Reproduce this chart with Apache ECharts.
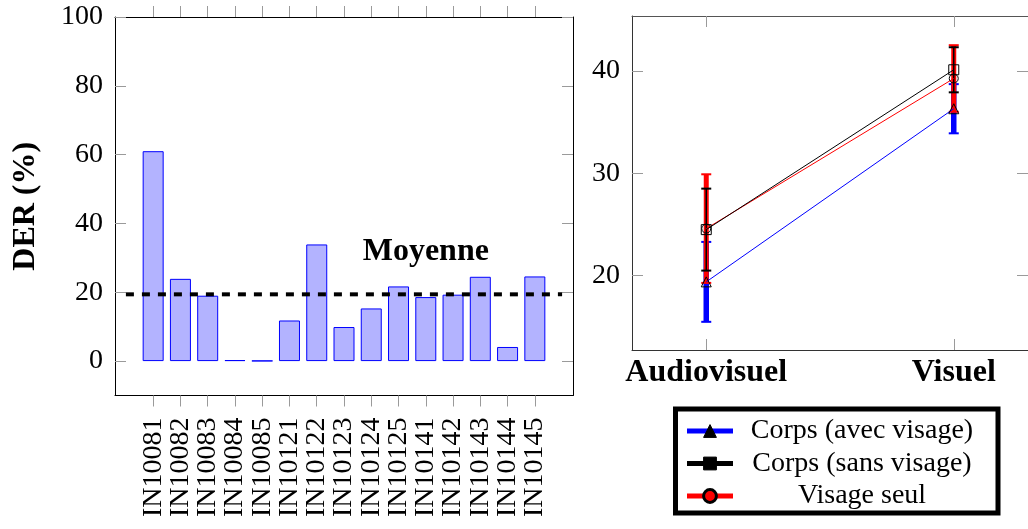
<!DOCTYPE html>
<html>
<head>
<meta charset="utf-8">
<script src="https://cdn.jsdelivr.net/npm/echarts@6/dist/echarts.min.js"></script>
<style>
html,body{margin:0;padding:0;background:#fff;}
#c{width:1028px;height:529px;}
</style>
</head>
<body>
<div id="c"></div>
<script>
// ---- Left chart data ----
const speakers = ['IN10081','IN10082','IN10083','IN10084','IN10085','IN10121','IN10122','IN10123','IN10124','IN10125','IN10141','IN10142','IN10143','IN10144','IN10145'];
const derValues = [61.0, 23.9, 19.0, 0.3, 0.1, 11.8, 33.9, 9.9, 15.3, 21.7, 18.6, 19.3, 24.5, 4.1, 24.6];
const derMean = 19.4;
const derTicks = [0, 20, 40, 60, 80, 100];
const meanLabel = 'Moyenne';

// ---- Right chart data ----
const conditions = ['Audiovisuel', 'Visuel'];
const seriesNames = ['Corps (avec visage)', 'Corps (sans visage)', 'Visage seul'];
const corpsAvec = [19.4, 36.3];
const corpsAvecErr = [3.9, 2.4];
const corpsSans = [24.5, 40.1];
const corpsSansErr = [4.0, 2.2];
const visageSeul = [24.6, 39.25];
const visageSeulErr = [5.3, 3.25];
const rightTicks = [20, 30, 40];

const FONT = 'Liberation Serif';
const FS = 28;
const FSB = 32;
const TICK = '#9a9a9a';

const chart = echarts.init(document.getElementById('c'), null, {renderer: 'canvas'});

const idx = speakers.map((_, i) => i);
const evenIdx = idx.filter(i => i % 2 === 0);
const oddIdx = idx.filter(i => i % 2 === 1);
const condIdx = conditions.map((_, i) => i);

function errData(vals, errs) {
  return vals.map((v, i) => [i, v - errs[i], v + errs[i]]);
}
function errSeries(vals, errs, color, bw, z) {
  return {
    type: 'custom', xAxisIndex: 2, yAxisIndex: 2, z: z, silent: true,
    encode: {x: 0, y: [1, 2]},
    data: errData(vals, errs),
    renderItem: function (params, api) {
      const x = api.value(0), lo = api.value(1), hi = api.value(2);
      const pLo = api.coord([x, lo]);
      const pHi = api.coord([x, hi]);
      const h = 5;
      return {
        type: 'group',
        children: [
          {type: 'line', shape: {x1: pLo[0], y1: pLo[1], x2: pHi[0], y2: pHi[1]}, style: {stroke: color, lineWidth: bw}},
          {type: 'line', shape: {x1: pHi[0] - h, y1: pHi[1], x2: pHi[0] + h, y2: pHi[1]}, style: {stroke: color, lineWidth: 2}},
          {type: 'line', shape: {x1: pLo[0] - h, y1: pLo[1], x2: pLo[0] + h, y2: pLo[1]}, style: {stroke: color, lineWidth: 2}}
        ]
      };
    }
  };
}
function lineSeries(name, vals, color, symbol, size, z) {
  return {
    name: name, type: 'line', xAxisIndex: 2, yAxisIndex: 2, z: z,
    data: vals.map((v, i) => [i, v]),
    symbol: symbol, symbolSize: size,
    lineStyle: {color: color, width: 1},
    itemStyle: {color: 'rgba(0,0,0,0)', borderColor: '#000', borderWidth: 1},
    emphasis: {disabled: true},
    animation: false
  };
}

const catLabel = {
  show: true, rotate: 90, margin: 22,
  showMinLabel: true, showMaxLabel: true,
  formatter: v => speakers[Math.round(v)] || '',
  fontFamily: FONT, fontSize: FS, color: '#000'
};

const option = {
  animation: false,
  backgroundColor: '#fff',
  grid: [
    {left: 115, top: 17, width: 458, height: 378.5, show: false},
    {left: 632, top: 16, width: 405, height: 334, show: false},
    {left: 115, top: 17, width: 458, height: 378.5, show: false}
  ],
  xAxis: [
    {
      type: 'value', gridIndex: 0, min: -1.4, max: 15.4, position: 'bottom',
      axisLine: {show: true, onZero: false, lineStyle: {color: '#000', width: 1}},
      axisTick: {show: true, inside: false, length: 11, customValues: idx, lineStyle: {color: TICK}},
      axisLabel: Object.assign({customValues: evenIdx}, catLabel),
      splitLine: {show: false}
    },
    {
      type: 'value', gridIndex: 0, min: -1.4, max: 15.4, position: 'top',
      axisLine: {show: true, onZero: false, lineStyle: {color: '#000', width: 1}},
      axisTick: {show: true, inside: false, length: 11, customValues: idx, lineStyle: {color: TICK}},
      axisLabel: {show: false},
      splitLine: {show: false}
    },
    {
      type: 'value', gridIndex: 1, min: -0.3, max: 1.3, position: 'bottom',
      axisLine: {show: true, onZero: false, lineStyle: {color: '#333', width: 1}},
      axisTick: {show: true, inside: true, length: 11, customValues: condIdx, lineStyle: {color: TICK}},
      axisLabel: {show: true, customValues: condIdx, margin: 7,
        showMinLabel: true, showMaxLabel: true,
        formatter: v => conditions[Math.round(v)] || '',
        fontFamily: FONT, fontSize: FSB, fontWeight: 'bold', color: '#000'},
      splitLine: {show: false}
    },
    {
      type: 'value', gridIndex: 1, min: -0.3, max: 1.3, position: 'top',
      axisLine: {show: true, onZero: false, lineStyle: {color: '#555', width: 1}},
      axisTick: {show: true, inside: true, length: 11, customValues: condIdx, lineStyle: {color: TICK}},
      axisLabel: {show: false},
      splitLine: {show: false}
    },
    {
      type: 'value', gridIndex: 2, min: -1.4, max: 15.4, position: 'bottom',
      axisLine: {show: false, onZero: false},
      axisTick: {show: false},
      axisLabel: Object.assign({customValues: oddIdx}, catLabel),
      splitLine: {show: false}
    }
  ],
  yAxis: [
    {
      type: 'value', gridIndex: 0, min: -10, max: 100, position: 'left',
      name: 'DER (%)', nameLocation: 'middle', nameGap: 73, nameRotate: 90,
      nameTextStyle: {fontFamily: FONT, fontSize: FSB, fontWeight: 'bold', color: '#000'},
      axisLine: {show: true, onZero: false, lineStyle: {color: '#000', width: 1}},
      axisTick: {show: true, inside: true, length: 11, customValues: derTicks, lineStyle: {color: TICK}},
      axisLabel: {show: true, customValues: derTicks, margin: 12, showMinLabel: true, showMaxLabel: true,
        fontFamily: FONT, fontSize: FS, color: '#000'},
      splitLine: {show: false}
    },
    {
      type: 'value', gridIndex: 0, min: -10, max: 100, position: 'right',
      axisLine: {show: true, onZero: false, lineStyle: {color: '#000', width: 1}},
      axisTick: {show: true, inside: true, length: 11, customValues: derTicks, lineStyle: {color: TICK}},
      axisLabel: {show: false},
      splitLine: {show: false}
    },
    {
      type: 'value', gridIndex: 1, min: 12.75, max: 45.35, position: 'left',
      axisLine: {show: true, onZero: false, lineStyle: {color: '#333', width: 1}},
      axisTick: {show: true, inside: true, length: 11, customValues: rightTicks, lineStyle: {color: TICK}},
      axisLabel: {show: true, customValues: rightTicks, margin: 12, fontFamily: FONT, fontSize: FS, color: '#000'},
      splitLine: {show: false}
    },
    {
      type: 'value', gridIndex: 1, min: 12.75, max: 45.35, position: 'right',
      axisLine: {show: true, onZero: false, lineStyle: {color: '#333', width: 1}},
      axisTick: {show: true, inside: true, length: 11, customValues: rightTicks, lineStyle: {color: TICK}},
      axisLabel: {show: false},
      splitLine: {show: false}
    },
    {
      type: 'value', gridIndex: 2, min: -10, max: 100, show: false
    }
  ],
  legend: {
    orient: 'vertical',
    left: 675.5, top: 409,
    padding: [8, 12, 3, 9],
    itemGap: 4.5,
    itemWidth: 46, itemHeight: 16,
    borderColor: '#000', borderWidth: 5,
    backgroundColor: '#fff',
    selectedMode: false,
    formatter: name => '{t|' + name + '}',
    textStyle: {
      rich: {t: {width: 248, align: 'center', fontFamily: FONT, fontSize: FS, color: '#000', lineHeight: 32}}
    },
    data: [
      {name: seriesNames[0], lineStyle: {color: '#0000ff', width: 5}, itemStyle: {color: '#000', borderColor: '#000', borderWidth: 1}},
      {name: seriesNames[1], lineStyle: {color: '#000', width: 5}, itemStyle: {color: '#000', borderColor: '#000', borderWidth: 1}},
      {name: seriesNames[2], lineStyle: {color: '#ff0000', width: 5}, itemStyle: {color: '#ff0000', borderColor: '#000', borderWidth: 3}}
    ]
  },
  series: [
    {
      type: 'bar', xAxisIndex: 0, yAxisIndex: 0,
      data: derValues.map((v, i) => [i, v]),
      barWidth: 21,
      itemStyle: {color: '#b3b3ff', borderColor: '#0000ff', borderWidth: 1},
      emphasis: {disabled: true},
      z: 2
    },
    {
      type: 'line', xAxisIndex: 0, yAxisIndex: 0, z: 3,
      data: [[-1, derMean], [15, derMean]],
      symbol: 'none',
      lineStyle: {color: '#000', width: 4, type: [8, 8]},
      emphasis: {disabled: true},
      markPoint: {
        symbol: 'circle', symbolSize: 0,
        label: {show: true, position: 'inside', formatter: meanLabel, fontFamily: FONT, fontSize: FSB, fontWeight: 'bold', color: '#000'},
        data: [{coord: [10, 31.8]}]
      }
    },
    errSeries(corpsAvec, corpsAvecErr, '#0000ff', 5.5, 2),
    errSeries(visageSeul, visageSeulErr, '#ff0000', 5, 3),
    errSeries(corpsSans, corpsSansErr, '#000000', 1.5, 4),
    lineSeries(seriesNames[0], corpsAvec, '#0000ff', 'triangle', 10, 5),
    lineSeries(seriesNames[2], visageSeul, '#ff0000', 'circle', 9, 6),
    lineSeries(seriesNames[1], corpsSans, '#000000', 'rect', 10, 7)
  ]
};
chart.setOption(option);
</script>
</body>
</html>
